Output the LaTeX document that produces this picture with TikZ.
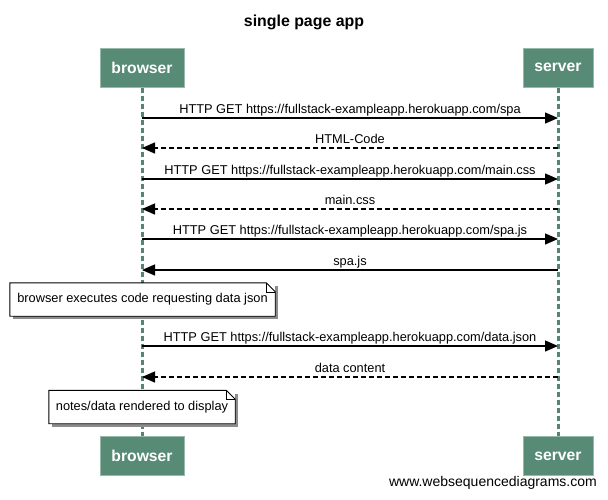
\documentclass[tikz,border=0pt]{standalone}
\usepackage{fontspec}
\setmainfont{Liberation Sans}
\usetikzlibrary{arrows.meta,shadows}
\definecolor{actor}{RGB}{87,139,117}
\definecolor{actorborder}{RGB}{150,185,168}
\definecolor{life}{RGB}{84,134,114}
\newcommand{\notefold}[1]{%
  \draw[line width=0.9pt] (#1.south west) -- (#1.north west) -- ([xshift=-9pt]#1.north east)
    -- ([yshift=-9pt]#1.north east) -- (#1.south east) -- cycle;
  \draw[line width=0.6pt] ([xshift=-9pt]#1.north east) -- ([xshift=-9pt,yshift=-9pt]#1.north east)
    -- ([yshift=-9pt]#1.north east);
}
\begin{document}
\begin{tikzpicture}[x=1pt,y=-1pt,
  actorbox/.style={draw=actorborder, fill=actor, line width=1pt, text=white,
    font=\bfseries\fontsize{15.7}{19}\selectfont, minimum height=39pt, inner sep=0pt},
  msg/.style={line width=1.4pt, -{Triangle[length=13pt,width=11pt]}},
  reply/.style={msg, dash pattern=on 5pt off 3pt},
  lbl/.style={font=\fontsize{12.8}{15}\selectfont, anchor=base, yshift=5pt, inner sep=0pt},
  notebox/.style={fill=white, font=\fontsize{12.8}{15}\selectfont, minimum height=33pt,
    inner sep=0pt, drop shadow={shadow xshift=3pt, shadow yshift=-3pt, fill=black!45, opacity=1}},
  lifeline/.style={draw=life, line width=3pt, dash pattern=on 5pt off 3pt}
]
\useasboundingbox (0,0) rectangle (608,499);

\node[font=\bfseries\fontsize{15.9}{18}\selectfont] (title) at (304,22) {single page app};

\node[actorbox, minimum width=84pt] (bt) at (142,67.5) {browser};
\node[actorbox, minimum width=70pt] (st) at (558,67.5) {server};
\node[actorbox, minimum width=84pt] (bb) at (142,456) {browser};
\node[actorbox, minimum width=70pt] (sb) at (558,456) {server};

\draw[lifeline] (bt.south) -- (bb.north);
\draw[lifeline] (st.south) -- (sb.north);

\foreach \i/\y in {1/118,2/148,3/179,4/209,5/239,6/270,7/346,8/377}{
  \coordinate (b\i) at (142,\y);
  \coordinate (s\i) at (558,\y);
}

\draw[msg] (b1) -- node[lbl] {HTTP GET https://fullstack-exampleapp.herokuapp.com/spa} (s1);
\draw[reply] (s2) -- node[lbl] {HTML-Code} (b2);
\draw[msg] (b3) -- node[lbl] {HTTP GET https://fullstack-exampleapp.herokuapp.com/main.css} (s3);
\draw[reply] (s4) -- node[lbl] {main.css} (b4);
\draw[msg] (b5) -- node[lbl] {HTTP GET https://fullstack-exampleapp.herokuapp.com/spa.js} (s5);
\draw[msg] (s6) -- node[lbl] {spa.js} (b6);

\node[notebox, minimum width=265pt] (n1) at (142.5,299.5) {browser executes code requesting data json};
\notefold{n1}

\draw[msg] (b7) -- node[lbl] {HTTP GET https://fullstack-exampleapp.herokuapp.com/data.json} (s7);
\draw[reply] (s8) -- node[lbl] {data content} (b8);

\node[notebox, minimum width=186pt] (n2) at (142,407) {notes/data rendered to display};
\notefold{n2}

\node[font=\fontsize{14}{16}\selectfont, anchor=east, inner sep=0pt] (wm) at (597,483) {www.websequencediagrams.com};
\end{tikzpicture}
\end{document}
